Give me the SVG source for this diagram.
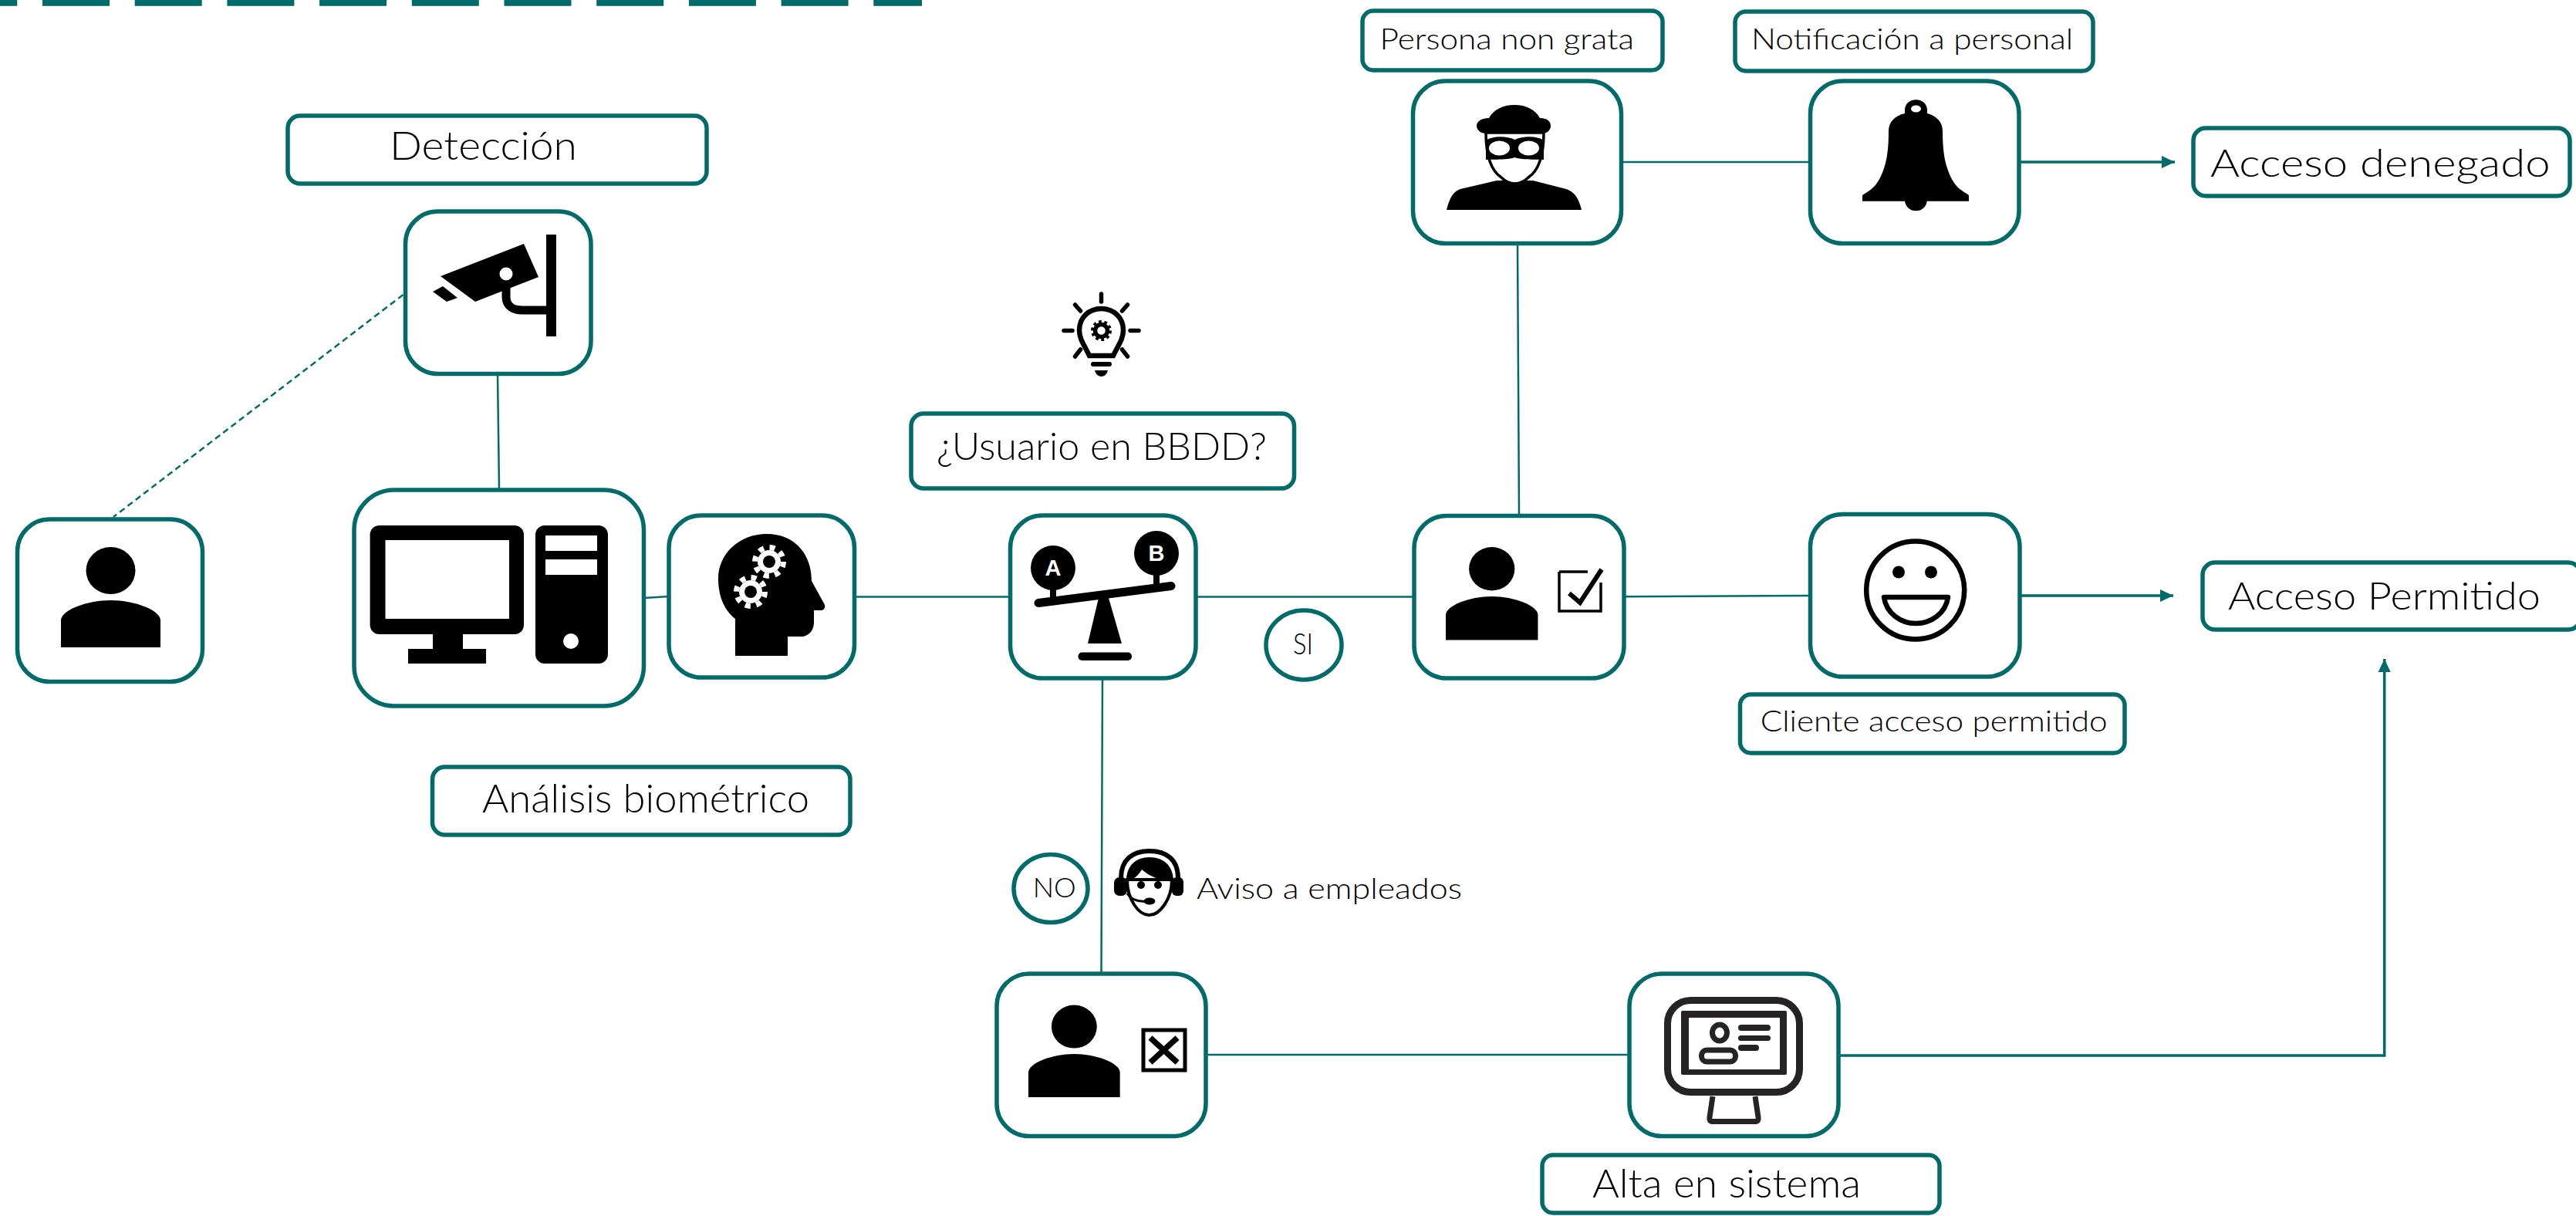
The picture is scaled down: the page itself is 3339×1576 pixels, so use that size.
<svg xmlns="http://www.w3.org/2000/svg" xmlns:xlink="http://www.w3.org/1999/xlink" width="3339" height="1576" viewBox="0 0 3339 1576">
<style>
.box{fill:#fff;stroke:#006b69;stroke-width:5.5}
.conn{fill:none;stroke:#006b69;stroke-width:2.5}
.arr{stroke-width:3.5}
text{font-family:"Lato","Century Gothic","Liberation Sans",sans-serif;font-weight:300;fill:#000}
.k{fill:#000}
.kl{fill:none;stroke:#000}
.w{fill:#fff}
.m{fill:none;stroke:#262324}
.d{fill:#262324}
.ab{font-family:"Liberation Sans",sans-serif;font-weight:700;fill:#fff}
</style>
<defs>
<marker id="ah" markerUnits="userSpaceOnUse" markerWidth="18" markerHeight="18" refX="17" refY="8" orient="auto"><path d="M0,0L17,8L0,16Z" fill="#006b69"/></marker>
<g id="person"><ellipse cx="64.5" cy="30.5" rx="32" ry="30.5"/><path d="M0,130V95C0,82 33,69 64.5,69C96,69 129,82 129,95V130Z"/></g>
<g id="gear"><circle r="15" fill="#fff"/><circle r="18.5" fill="none" stroke="#fff" stroke-width="7" stroke-dasharray="7 7.53"/><circle r="8" fill="#000"/></g>
</defs>
<path id="topbar" d="M-64.7,3.7H1195" fill="none" stroke="#006b69" stroke-width="8" stroke-dasharray="87 32.7"/>
<g id="connectors">
<path class="conn" stroke-dasharray="8 5" d="M522.5,382L147,670"/>
<path class="conn" d="M645,485L647,634"/>
<path class="conn" d="M835,775L867,773"/>
<path class="conn" d="M1107,773.5H1309.5"/>
<path class="conn" d="M1550,773.5H1833"/>
<path class="conn" d="M2105,773.3L2346.5,772"/>
<path class="conn" d="M1967,315L1969,668"/>
<path class="conn" d="M2101,210H2346"/>
<path class="conn arr" marker-end="url(#ah)" d="M2617.5,210H2819"/>
<path class="conn arr" marker-end="url(#ah)" d="M2618,772H2817"/>
<path class="conn" d="M1429,879L1427.5,1261"/>
<path class="conn" d="M1563,1367H2112"/>
<path class="conn arr" marker-end="url(#ah)" d="M2383,1368H3090.7V854"/>
</g>
<g id="n-deteccion"><rect class="box" x="373" y="150" width="543" height="88" rx="16"/><text x="505" y="207" font-size="52" textLength="243" lengthAdjust="spacingAndGlyphs">Detección</text></g>
<g id="n-camara"><rect class="box" x="525.5" y="274" width="240.5" height="210.5" rx="42"/>
<path class="k" d="M571,358L679,316L698,359L616,391Z M561,378L574,371L593,386L579,391Z M708,304H721V436H708Z"/>
<circle class="w" cx="656" cy="355" r="8.5"/>
<path class="kl" stroke-width="11" d="M656,373V385C656,397 666,402 677,402H711"/></g>
<g id="n-persona"><rect class="box" x="22.5" y="673" width="240" height="210.5" rx="42"/><use xlink:href="#person" href="#person" transform="translate(79,709)"/></g>
<g id="n-ordenador"><rect class="box" x="459" y="635" width="375.5" height="280" rx="52"/>
<rect class="k" x="479.6" y="681" width="199.4" height="141" rx="12"/><rect class="w" x="499.5" y="700" width="160.5" height="102"/>
<path class="k" d="M561,820H600V841H630V860H529V841H561Z"/>
<rect class="k" x="694" y="681" width="94" height="179" rx="12"/>
<rect class="w" x="707" y="694" width="67" height="20"/><rect class="w" x="707" y="725" width="67" height="20"/><circle class="w" cx="740" cy="831" r="10"/></g>
<g id="n-cabeza"><rect class="box" x="867" y="668" width="240.5" height="210" rx="42"/>
<path class="k" d="M994,692C958,692 931,718 931,750C931,775 940,792 953,802V850H1021V825H1041C1050,823 1055,816 1055,806V791H1065C1070,790 1070,785 1068,782L1052,753C1052,718 1030,692 994,692Z"/>
<use xlink:href="#gear" href="#gear" transform="translate(997,728)"/><use xlink:href="#gear" href="#gear" transform="translate(973,767)"/></g>
<g id="n-bombilla" class="kl" stroke-width="5.5" stroke-linecap="round">
<path d="M1427.5,381V391M1379,428.5H1390M1465,428.5H1476M1393.5,395L1400.5,403M1461.5,395L1454.5,403M1393.5,462L1400.5,453M1461.5,462L1454.5,453"/>
<path stroke-width="6.5" d="M1412,461C1406,448 1399,440 1399,428C1399,411 1412,400 1427.5,400C1443,400 1456,411 1456,428C1456,440 1449,448 1443,461Z"/>
<circle cx="1427.5" cy="428.5" r="11" stroke-width="5" stroke-dasharray="3.5 3.4" stroke-linecap="butt"/>
<circle cx="1427.5" cy="428.5" r="8"/>
<rect class="k" x="1414" y="469" width="27" height="6" rx="3" stroke="none"/>
<path class="k" stroke="none" d="M1419,480H1436C1435,485 1431,488 1427.5,488C1424,488 1420,485 1419,480Z"/></g>
<g id="n-usuario"><rect class="box" x="1181" y="536" width="496.5" height="97" rx="16"/><text x="1214" y="596" font-size="50" textLength="428" lengthAdjust="spacingAndGlyphs">¿Usuario en BBDD?</text></g>
<g id="n-balanza"><rect class="box" x="1309.5" y="668" width="240.5" height="211" rx="42"/>
<path class="kl" stroke-width="11" stroke-linecap="round" d="M1346,781.5L1518,759.5"/>
<path class="kl" stroke-width="8" d="M1365,760V778M1499,740V762"/>
<circle class="k" cx="1365" cy="736" r="29"/><circle class="k" cx="1499" cy="717" r="29"/>
<path class="k" d="M1424,775H1437L1454,834H1410Z"/>
<rect class="k" x="1397.5" y="845.5" width="69.5" height="10.5" rx="5"/>
<text class="ab" x="1365" y="746" font-size="29" text-anchor="middle">A</text>
<text class="ab" x="1499" y="727" font-size="29" text-anchor="middle">B</text></g>
<g id="n-si"><ellipse class="box" cx="1690" cy="836" rx="49" ry="45"/><text x="1676" y="848" font-size="37" textLength="26" lengthAdjust="spacingAndGlyphs">SI</text></g>
<g id="n-check"><rect class="box" x="1833" y="668.5" width="272" height="210.5" rx="42"/><use xlink:href="#person" href="#person" transform="translate(1874,709) scale(.926)"/>
<path class="kl" stroke-width="3.5" d="M2021,741H2058M2021,741V792H2075V755"/>
<path class="kl" stroke-width="6" d="M2034,769L2048,781L2076,738"/></g>
<g id="n-nongrata"><rect class="box" x="1766" y="14" width="389" height="77" rx="14"/><text x="1788.5" y="63.5" font-size="38" textLength="329.5" lengthAdjust="spacingAndGlyphs">Persona non grata</text></g>
<g id="n-notificacion"><rect class="box" x="2249" y="15" width="464" height="77" rx="14"/><text x="2270" y="63.5" font-size="38" textLength="417" lengthAdjust="spacingAndGlyphs">Notificación a personal</text></g>
<g id="n-ladron"><rect class="box" x="1831.5" y="105" width="270" height="210.5" rx="42"/>
<path class="k" d="M1875,272C1879,256 1884,248 1893,245L1940,234H1987L2030,245C2040,248 2046,256 2050,272Z"/>
<path class="w" stroke="#000" stroke-width="3.5" d="M1926,172C1926,205 1934,222 1946,230C1952,236 1958,238 1963.5,238C1969,238 1975,236 1981,230C1993,222 2001,205 2001,172Z"/>
<path class="k" d="M1930,153C1936,142 1948,136 1963,136C1978,136 1990,142 1996,153C2005,153 2010,157 2010,163C2010,169 2005,173 1999,173H1926C1920,173 1914,169 1914,163C1914,157 1921,153 1930,153Z"/>
<path class="k" d="M1926,182C1935,176 1952,176 1963.5,181C1975,176 1992,176 2001,182V207C1992,206 1975,208 1963.5,204C1952,208 1935,206 1926,207Z"/>
<ellipse class="w" cx="1943.5" cy="192" rx="13.5" ry="9.5"/><ellipse class="w" cx="1981.5" cy="192" rx="13.5" ry="9.5"/></g>
<g id="n-campana"><rect class="box" x="2346.5" y="105" width="270.5" height="210.5" rx="42"/>
<path class="k" d="M2469,147V143C2469,135 2475,129.3 2483.5,129.3C2492,129.3 2498,135 2498,143V147C2510,150 2518,158 2518,170C2518,185 2519,197 2521,207C2524,220 2528,230 2533,237C2538,245 2546,249 2552,253V260.7H2497.7C2497,268 2491,273.3 2483.5,273.3C2476,273.3 2470,268 2469,260.7H2414V253C2420,249 2428,245 2433,237C2438,230 2442,220 2445,207C2447,197 2448,185 2448,170C2448,158 2456,150 2469,147Z"/>
<ellipse class="w" cx="2483.5" cy="141" rx="6.5" ry="4.5"/></g>
<g id="n-denegado"><rect class="box" x="2843" y="166" width="488" height="88" rx="16"/><text x="2865" y="229" font-size="50" textLength="440.6" lengthAdjust="spacingAndGlyphs">Acceso denegado</text></g>
<g id="n-sonrisa"><rect class="box" x="2346.5" y="666.5" width="271.5" height="210.5" rx="42"/>
<circle class="kl" cx="2482.7" cy="765" r="63.5" stroke-width="6.5"/><circle class="k" cx="2461" cy="741.5" r="8"/><circle class="k" cx="2503" cy="741.5" r="8"/>
<path class="kl" stroke-width="6.5" stroke-linejoin="round" d="M2442,774H2525C2522,795 2503,808 2483,808C2464,808 2445,795 2442,774Z"/></g>
<g id="n-permitido"><rect class="box" x="2855" y="729" width="490" height="87" rx="16"/><text x="2888" y="790" font-size="50" textLength="405" lengthAdjust="spacingAndGlyphs">Acceso Permitido</text></g>
<g id="n-cliente"><rect class="box" x="2255.5" y="900" width="498.5" height="76" rx="14"/><text x="2281.7" y="948" font-size="38" textLength="450" lengthAdjust="spacingAndGlyphs">Cliente acceso permitido</text></g>
<g id="n-analisis"><rect class="box" x="560.5" y="994" width="541.5" height="88" rx="16"/><text x="625" y="1053" font-size="51" textLength="424" lengthAdjust="spacingAndGlyphs">Análisis biométrico</text></g>
<g id="n-no"><ellipse class="box" cx="1362" cy="1151.5" rx="48" ry="44"/><text x="1338.7" y="1163" font-size="36" textLength="56" lengthAdjust="spacingAndGlyphs">NO</text></g>
<g id="n-aviso">
<path class="kl" stroke-width="6" d="M1453,1138C1453,1114 1468,1103 1490,1103C1512,1103 1527,1114 1527,1138"/>
<rect class="k" x="1444" y="1137" width="17" height="24" rx="7"/><rect class="k" x="1519" y="1137" width="15" height="24" rx="6"/>
<path class="w" stroke="#000" stroke-width="4" d="M1461,1140C1461,1166 1476,1186 1489.5,1186C1503,1186 1519,1166 1519,1140Z"/>
<path class="k" d="M1460,1142C1460,1122 1472,1111 1490,1111C1508,1111 1521,1122 1521,1142C1510,1141 1495,1140 1480,1127C1476,1134 1470,1140 1460,1142Z"/>
<circle class="k" cx="1479" cy="1147" r="5"/><circle class="k" cx="1501" cy="1147" r="5"/>
<path class="kl" stroke-width="3" d="M1461,1158C1466,1166 1474,1169 1486,1168"/><ellipse class="k" cx="1490" cy="1168" rx="7.5" ry="4.5"/>
<text x="1551" y="1165" font-size="38" textLength="344" lengthAdjust="spacingAndGlyphs">Aviso a empleados</text></g>
<g id="n-xpersona"><rect class="box" x="1292" y="1262" width="271" height="210.5" rx="42"/><use xlink:href="#person" href="#person" transform="translate(1333,1302.5) scale(.92)"/>
<rect class="kl" x="1482" y="1335" width="54" height="52" stroke-width="5"/><path class="kl" stroke-width="7.5" d="M1491,1345L1526,1377M1526,1345L1491,1377"/></g>
<g id="n-alta"><rect class="box" x="2112" y="1262" width="271" height="210.5" rx="42"/>
<rect class="m" x="2161.5" y="1296.5" width="171" height="119" rx="30" stroke-width="9"/>
<rect class="d" x="2179" y="1310" width="137" height="83" rx="2"/><rect class="w" x="2189" y="1319" width="118" height="67"/>
<ellipse class="m" cx="2229" cy="1338.5" rx="9.5" ry="10.5" stroke-width="7"/>
<rect class="m" x="2205.5" y="1361" width="44" height="15" rx="7" stroke-width="7"/>
<rect class="d" x="2253" y="1328" width="42" height="8" rx="4"/><rect class="d" x="2253" y="1342" width="42" height="7" rx="3.5"/><rect class="d" x="2253" y="1354" width="27" height="8" rx="4"/>
<path class="m" stroke-width="7" d="M2220,1421L2216,1448Q2215,1453.5 2220,1453.5H2275Q2280,1453.5 2279,1448L2275,1421"/></g>
<g id="n-sistema"><rect class="box" x="1999" y="1497" width="515" height="75" rx="14"/><text x="2064" y="1552" font-size="51" textLength="348" lengthAdjust="spacingAndGlyphs">Alta en sistema</text></g>
</svg>
